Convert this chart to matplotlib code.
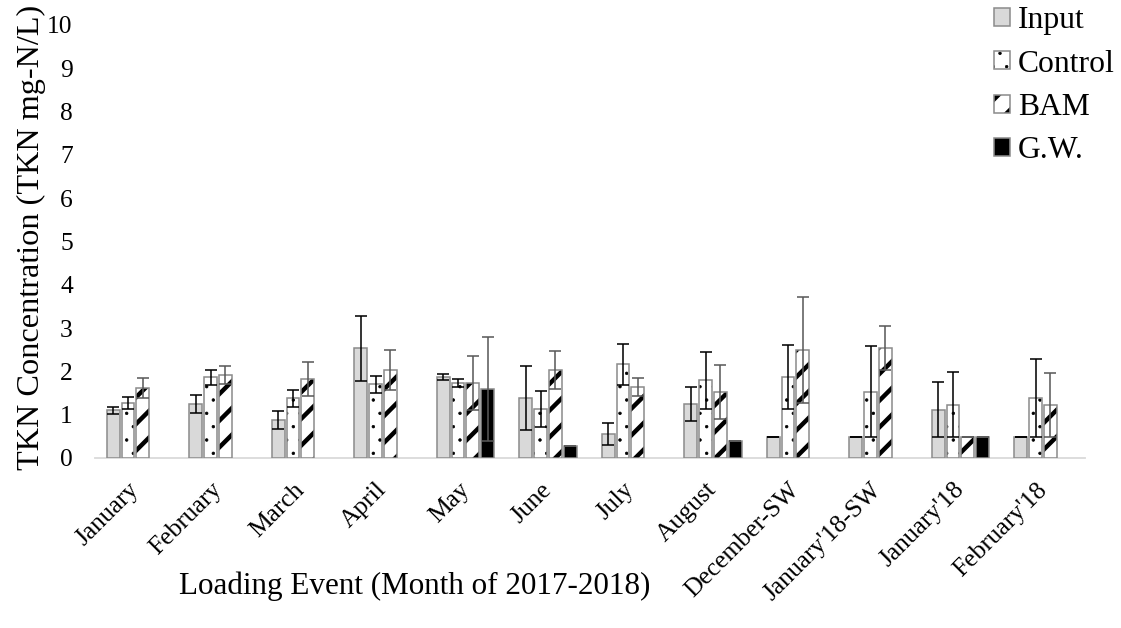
import numpy as np
import matplotlib.pyplot as plt
import matplotlib.transforms as mtransforms
from matplotlib.patches import Patch
from matplotlib.legend_handler import HandlerTuple

# -----------------------------
#  TKN data (mean and error per loading event)
# -----------------------------
events = ["January", "February", "March", "April", "May", "June", "July",
          "August", "December-SW", "January'18-SW", "January'18", "February'18"]

input_mean = [1.10, 1.24, 0.88, 2.53, 1.88, 1.39, 0.55, 1.25, 0.48, 0.48, 1.12, 0.48]
input_err = [0.08, 0.21, 0.20, 0.75, 0.07, 0.74, 0.25, 0.39, 0.0, 0.0, 0.64, 0.0]

control_mean = [1.28, 1.86, 1.38, 1.70, 1.73, 1.13, 2.16, 1.79, 1.87, 1.53, 1.23, 1.38]
control_err = [0.14, 0.17, 0.20, 0.20, 0.10, 0.42, 0.47, 0.66, 0.73, 1.05, 0.75, 0.90]

bam_mean = [1.61, 1.92, 1.82, 2.03, 1.73, 2.03, 1.64, 1.52, 2.49, 2.55, 0.48, 1.22]
bam_err = [0.23, 0.20, 0.39, 0.47, 0.62, 0.44, 0.20, 0.62, 1.22, 0.51, 0.0, 0.74]

nan = np.nan
gw_mean = [nan, nan, nan, nan, 1.59, 0.28, nan, 0.40, nan, nan, 0.48, nan]
gw_err = [nan, nan, nan, nan, 1.20, 0.0, nan, 0.0, nan, nan, 0.0, nan]

yticks = list(range(0, 11))

# -----------------------------
#  Style
# -----------------------------
DPI = 80
plt.rcParams["font.family"] = ["Liberation Serif", "DejaVu Serif"]

series = [
    # label, mean, err, face, hatch, err colour
    ("Input", input_mean, input_err, "#d9d9d9", None, "black"),
    ("Control", control_mean, control_err, "white", ".", "black"),
    ("BAM", bam_mean, bam_err, "white", "/", "#595959"),
    ("G.W.", gw_mean, gw_err, "black", None, "#595959"),
]
hatch_lw = {".": 0.6, "/": 4.0}
offsets = [-0.28, -0.10, 0.08, 0.26]
width = 0.155
edge = "#8c8c8c"


def set_hatch_lw(patch):
    h = patch.get_hatch()
    if h in hatch_lw and hasattr(patch, "set_hatch_linewidth"):
        patch.set_hatch_linewidth(hatch_lw[h])


fig = plt.figure(figsize=(1121 / DPI, 628 / DPI), dpi=DPI)
ax = fig.add_axes([95 / 1121, 1 - 458 / 628, 990 / 1121, 433 / 628])

x = np.arange(len(events))
handles = []
for (label, mean, err, face, hatch, ecol), off in zip(series, offsets):
    mean = np.array(mean, dtype=float)
    err = np.array(err, dtype=float)
    pos = x + off
    # filled body with hatch (hatch takes the edge colour, so edge width 0)
    with plt.rc_context({"hatch.linewidth": hatch_lw.get(hatch, 1.0)}):
        body = ax.bar(pos, mean, width, color=face, edgecolor="black",
                      linewidth=0, hatch=hatch, zorder=2)
    for p in body:
        set_hatch_lw(p)
    # grey outline on top
    ax.bar(pos, mean, width, fill=False, edgecolor=edge, linewidth=1.4, zorder=3)
    ax.errorbar(pos, mean, yerr=err, fmt="none", ecolor=ecol, elinewidth=1.4,
                capsize=5.5, capthick=1.4, zorder=4)
    key = Patch(facecolor=face, edgecolor="black", linewidth=0, hatch=hatch)
    border = Patch(fill=False, edgecolor=edge, linewidth=1.4)
    handles.append((key, border))

ax.set_xlim(-0.5, len(events) - 0.5)
ax.set_ylim(0, 10)
ax.set_yticks(yticks)
ax.set_xticks(x)
ax.set_xticklabels(events, rotation=45, ha="right", rotation_mode="anchor")
ax.tick_params(axis="both", length=0, labelsize=23)
ax.tick_params(axis="y", pad=20)
ax.tick_params(axis="x", pad=14)

# nudge the slanted month labels a little left and down
shift = mtransforms.ScaledTranslation(-8 / DPI, -5 / DPI, fig.dpi_scale_trans)
for lab in ax.get_xticklabels():
    lab.set_transform(lab.get_transform() + shift)

for side in ["top", "right", "left"]:
    ax.spines[side].set_visible(False)
ax.spines["bottom"].set_color("#d9d9d9")
ax.spines["bottom"].set_linewidth(1.6)
ax.spines["bottom"].set_zorder(1)

fig.text(31 / 1121, 1 - 237 / 628, "TKN Concentration (TKN mg-N/L)",
         fontsize=29, rotation=90, ha="center", va="center")
fig.text(415 / 1121, 1 - 586 / 628, "Loading Event (Month of 2017-2018)",
         fontsize=28, ha="center", va="center")

leg = fig.legend(handles, [s[0] for s in series], loc="upper right",
                 bbox_to_anchor=(1.0, 1.0), frameon=False, fontsize=28.5,
                 handlelength=0.5, handleheight=0.5, handletextpad=0.25,
                 labelspacing=0.45, borderaxespad=0.0, borderpad=0.2,
                 handler_map={tuple: HandlerTuple(ndivide=1, pad=0)})
for p in leg.findobj(Patch):
    set_hatch_lw(p)

fig.savefig("out.png", dpi=DPI)
